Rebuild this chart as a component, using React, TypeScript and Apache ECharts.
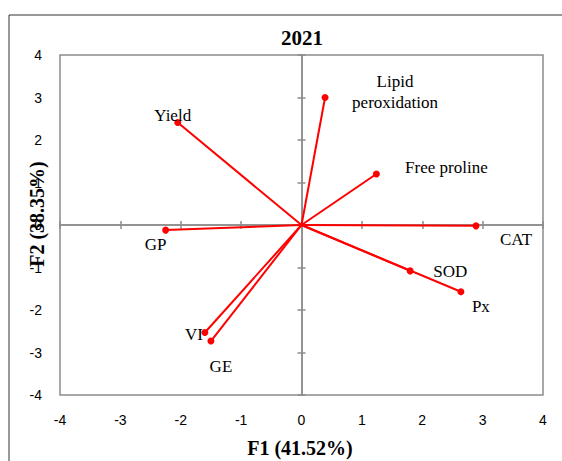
import React, { useEffect, useRef } from "react";
import * as echarts from "echarts";

const variables = ["Yield", "GP", "Lipid\nperoxidation", "Free proline", "CAT", "SOD", "Px", "VI", "GE"];
const f1Values = [-2.05, -2.25, 0.39, 1.24, 2.89, 1.8, 2.64, -1.6, -1.5];
const f2Values = [2.41, -0.12, 3.0, 1.2, -0.02, -1.08, -1.57, -2.53, -2.73];
const axisTicks = [-4, -3, -2, -1, 0, 1, 2, 3, 4];
const labelOffsets = [[-5, -7], [-10, 14], [70, -6], [70, -7], [40, 14], [40, 1], [20, 15], [-11, 2], [10, 25]];

const GRAY = "#8c8c8c";
const SERIF = "'Liberation Serif', 'Times New Roman', serif";
const SANS = "'Liberation Sans', Arial, sans-serif";

export default function App() {
  const ref = useRef<HTMLDivElement>(null);
  useEffect(() => {
    if (!ref.current) return;
    const chart = echarts.init(ref.current, null, { renderer: "svg" });
    const min = axisTicks[0];
    const max = axisTicks[axisTicks.length - 1];
    const baseAxis = (extra: any) => ({
      type: "value",
      min,
      max,
      interval: 1,
      splitLine: { show: false },
      ...extra,
    });
    const labelAxis = (pos: string) =>
      baseAxis({
        position: pos,
        axisLine: { show: false, onZero: false },
        axisTick: { show: false },
        axisLabel: { show: true, fontSize: 14, color: "#000", fontFamily: SANS, margin: 18 },
      });
    const zeroAxis = (pos: string, inside: boolean) =>
      baseAxis({
        position: pos,
        axisLine: { show: true, onZero: true, onZeroAxisIndex: 0, lineStyle: { color: GRAY, width: 1.5 } },
        axisTick: { show: true, inside, length: 4, lineStyle: { color: GRAY, width: 1.5 } },
        axisLabel: { show: false },
      });

    const series = variables.map((name, i) => ({
      type: "line",
      name,
      xAxisIndex: 0,
      yAxisIndex: 0,
      symbol: "circle",
      symbolSize: 7,
      lineStyle: { color: "#ff0000", width: 2 },
      itemStyle: { color: "#ff0000" },
      z: 3,
      data: [
        { value: [0, 0], symbol: "none" },
        {
          value: [f1Values[i], f2Values[i]],
          label: {
            show: true,
            formatter: name,
            position: "inside",
            offset: labelOffsets[i],
            color: "#000",
            fontSize: 17,
            fontFamily: SERIF,
            align: "center",
            verticalAlign: "middle",
            lineHeight: 21,
          },
        },
      ],
    }));

    chart.setOption({
      animation: false,
      grid: {
        left: 60,
        right: 19,
        top: 55,
        bottom: 66,
        show: true,
        borderColor: GRAY,
        borderWidth: 1.5,
        backgroundColor: "transparent",
      },
      xAxis: [labelAxis("bottom"), zeroAxis("bottom", false), zeroAxis("bottom", true)],
      yAxis: [labelAxis("left"), zeroAxis("left", false), zeroAxis("left", true)],
      series,
      graphic: [
        {
          type: "rect",
          shape: { x: 9, y: 15, width: 700, height: 600 },
          style: { fill: "none", stroke: "#333", lineWidth: 1 },
          silent: true,
          z: -10,
        },
        {
          type: "text",
          x: 302,
          y: 38,
          style: { text: "2021", font: `bold 21px ${SERIF}`, fill: "#000", align: "center", verticalAlign: "middle" },
        },
        {
          type: "text",
          x: 300,
          y: 448,
          style: { text: "F1 (41.52%)", font: `bold 20px ${SERIF}`, fill: "#000", align: "center", verticalAlign: "middle" },
        },
        {
          type: "text",
          x: 37,
          y: 214,
          rotation: Math.PI / 2,
          style: { text: "F2 (38.35%)", font: `bold 20px ${SERIF}`, fill: "#000", align: "center", verticalAlign: "middle" },
        },
      ],
    });
    return () => chart.dispose();
  }, []);
  return <div ref={ref} style={{ width: 562, height: 461, position: "absolute", left: 0, top: 0 }} />;
}
